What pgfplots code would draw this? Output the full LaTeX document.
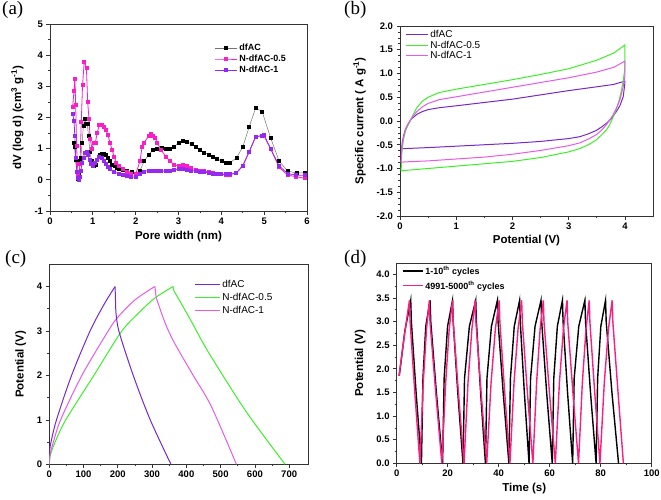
\documentclass[border=0pt]{standalone}
\usepackage{fontspec}
\setmainfont{Liberation Sans}
\newfontfamily\serif{Liberation Serif}
\usepackage{pgfplots}
\pgfplotsset{compat=1.18}
\definecolor{apink}{RGB}{250,30,200}
\definecolor{apurple}{RGB}{150,40,240}
\definecolor{bpurple}{RGB}{120,40,200}
\definecolor{bgreen}{RGB}{60,240,40}
\definecolor{bmag}{RGB}{230,90,235}
\definecolor{dpink}{RGB}{250,30,130}
\pgfplotsset{
  every axis/.append style={
    scale only axis, anchor=south west,
    axis line style={draw=black!80, line width=0.9pt},
    tick align=outside, xtick pos=left, ytick pos=left,
    major tick length=3.5pt, minor tick length=2pt,
    every tick/.style={black!80, line width=0.7pt},
    ticklabel style={font=\bfseries\fontsize{9.5}{10}\selectfont},
    /pgf/number format/assume math mode=true,
    label style={font=\bfseries\fontsize{11.5}{12}\selectfont},
    ylabel style={yshift=4pt},
    legend cell align=left,
  },
}
\begin{document}
\begin{tikzpicture}
\useasboundingbox (0,0) rectangle (661pt,499pt);
% ---------------- (a)
\begin{axis}[at={(50pt,288pt)}, width=257pt, height=187pt,
  xmin=0, xmax=6, ymin=-1, ymax=5, xtick={0,...,6}, ytick={-1,...,5},
  minor x tick num=1, minor y tick num=1,
  xlabel={Pore width (nm)}, ylabel={dV (log d) (cm\textsuperscript{3} g\textsuperscript{-1})},
  xlabel style={yshift=0pt},
  legend style={draw=none, fill=none, at={(0.64,0.905)}, anchor=north west, inner sep=0pt,
    font=\bfseries\fontsize{9}{9}\selectfont, row sep=-1pt},
  legend image code/.code={\draw[mark repeat=2,mark phase=2,#1] plot coordinates {(0pt,0pt) (11pt,0pt) (22pt,0pt)};},
  mark size=1.5pt]
\addplot[color=black!55, line width=0.5pt, mark=square*, mark options={black, draw=black}] coordinates {
(0.55,1.2)(0.57,1.05)(0.6,0.65)(0.62,0.25)(0.65,0.05)(0.68,0.2)(0.7,0.6)(0.72,0.7)(0.75,1.2)(0.78,1.75)(0.81,1.95)(0.84,1.8)(0.87,1.8)(0.9,1.4)(0.93,0.9)(0.97,0.6)(1.02,0.45)(1.06,0.5)(1.1,0.65)(1.15,0.8)(1.2,0.85)(1.25,0.85)(1.3,0.8)(1.35,0.7)(1.4,0.6)(1.45,0.5)(1.5,0.45)(1.55,0.4)(1.6,0.35)(1.7,0.32)(1.8,0.28)(1.9,0.25)(2.0,0.2)(2.1,0.3)(2.2,0.6)(2.3,0.8)(2.4,0.95)(2.5,1.0)(2.6,1.02)(2.7,1.0)(2.8,1.0)(2.9,1.05)(3.0,1.2)(3.1,1.27)(3.2,1.22)(3.3,1.15)(3.4,1.05)(3.5,0.95)(3.6,0.88)(3.7,0.82)(3.8,0.75)(3.9,0.68)(4.0,0.6)(4.1,0.55)(4.2,0.55)(4.35,0.7)(4.5,1.05)(4.65,1.7)(4.8,2.3)(4.95,2.2)(5.15,1.35)(5.35,0.6)(5.55,0.28)(5.75,0.22)(5.95,0.22)};
\addlegendentry{dfAC}
\addplot[color=apink, line width=0.8pt, mark=square*, mark options={apink}] coordinates {
(0.53,2.35)(0.56,2.85)(0.58,3.25)(0.6,2.4)(0.62,1.1)(0.64,0.5)(0.66,0.15)(0.68,0.1)(0.7,0.5)(0.73,1.85)(0.76,3.05)(0.8,3.8)(0.85,3.6)(0.88,2.5)(0.91,1.95)(0.94,1.3)(0.98,1.0)(1.02,1.2)(1.06,1.2)(1.1,1.5)(1.15,1.75)(1.2,1.77)(1.25,1.7)(1.3,1.6)(1.35,1.45)(1.4,1.2)(1.45,0.95)(1.5,0.75)(1.55,0.55)(1.6,0.45)(1.7,0.35)(1.8,0.25)(1.9,0.2)(2.0,0.18)(2.1,0.6)(2.15,1.05)(2.2,1.2)(2.3,1.4)(2.35,1.47)(2.4,1.4)(2.45,1.35)(2.5,1.2)(2.6,0.95)(2.7,0.75)(2.8,0.6)(2.9,0.48)(3.0,0.45)(3.1,0.48)(3.2,0.45)(3.3,0.38)(3.4,0.32)(3.5,0.3)(3.6,0.28)(3.7,0.25)(3.8,0.22)(3.9,0.2)(4.0,0.18)(4.1,0.17)(4.2,0.17)(4.35,0.22)(4.5,0.45)(4.65,0.9)(4.8,1.38)(4.95,1.42)(5.0,1.4)(5.15,1.0)(5.35,0.4)(5.55,0.15)(5.75,0.1)(5.95,0.05)};
\addlegendentry{N-dfAC-0.5}
\addplot[color=apurple, line width=0.8pt, mark=square*, mark options={apurple}] coordinates {
(0.53,2.1)(0.56,1.9)(0.58,1.4)(0.6,0.7)(0.63,0.25)(0.66,0.05)(0.68,0.0)(0.7,0.1)(0.72,0.3)(0.75,0.55)(0.78,0.7)(0.81,0.88)(0.85,0.9)(0.88,0.8)(0.92,0.65)(0.96,0.5)(1.0,0.45)(1.05,0.55)(1.1,0.65)(1.15,0.72)(1.2,0.7)(1.25,0.6)(1.3,0.5)(1.35,0.42)(1.4,0.35)(1.5,0.25)(1.6,0.2)(1.7,0.16)(1.8,0.12)(1.9,0.1)(2.0,0.08)(2.1,0.2)(2.2,0.27)(2.3,0.3)(2.4,0.3)(2.5,0.28)(2.6,0.28)(2.7,0.28)(2.8,0.28)(2.9,0.32)(3.0,0.35)(3.1,0.35)(3.2,0.33)(3.3,0.3)(3.4,0.28)(3.5,0.27)(3.6,0.25)(3.7,0.22)(3.8,0.2)(3.9,0.2)(4.0,0.18)(4.1,0.18)(4.2,0.18)(4.35,0.22)(4.5,0.45)(4.65,0.9)(4.8,1.38)(4.95,1.42)(5.0,1.43)(5.15,1.0)(5.35,0.45)(5.55,0.2)(5.75,0.15)(5.95,0.15)};
\addlegendentry{N-dfAC-1}
\end{axis}
% ---------------- (b)
\begin{axis}[at={(400pt,283pt)}, width=253pt, height=190pt,
  xmin=0, xmax=4.5, ymin=-2, ymax=2, xtick={0,...,4}, ytick={-2,-1.5,...,2},
  minor x tick num=1, minor y tick num=3,
  yticklabel style={/pgf/number format/.cd, fixed, fixed zerofill, precision=1},
  xlabel={Potential (V)}, ylabel={Specific current ( A g\textsuperscript{-1})},
  xlabel style={yshift=1pt},
  legend style={draw=none, fill=none, at={(0.02,0.99)}, anchor=north west, inner sep=0pt,
    font=\fontsize{10}{10}\selectfont, row sep=-2pt},
  legend image code/.code={\draw[#1] (0pt,0pt) -- (22pt,0pt);}]
\addplot[color=bpurple, line width=1pt] coordinates {
(0.03,-0.58)(0.04,-0.45)(0.07,-0.28)(0.1,-0.17)(0.15,-0.05)(0.2,0.04)(0.3,0.14)(0.4,0.2)(0.5,0.24)(0.7,0.28)(1,0.32)(1.5,0.39)(2,0.46)(2.5,0.55)(3,0.64)(3.5,0.72)(3.8,0.77)(4,0.84)
(4,0.8)(3.99,0.7)(3.97,0.51)(3.91,0.32)(3.85,0.2)(3.76,0.05)(3.67,-0.05)(3.58,-0.13)(3.49,-0.2)(3.35,-0.27)(3.2,-0.33)(3,-0.37)(2.5,-0.43)(2,-0.47)(1.5,-0.5)(1,-0.53)(0.5,-0.56)(0.1,-0.58)(0.03,-0.58)};
\addlegendentry{dfAC}
\addplot[color=bgreen, line width=1pt] coordinates {
(0.02,-1.05)(0.03,-0.7)(0.06,-0.4)(0.1,-0.2)(0.15,-0.07)(0.2,0.05)(0.25,0.17)(0.3,0.28)(0.4,0.42)(0.5,0.5)(0.7,0.6)(1,0.67)(1.5,0.77)(2,0.87)(2.5,0.98)(3,1.1)(3.5,1.28)(3.8,1.43)(4,1.6)
(4,1.1)(3.97,0.85)(3.94,0.65)(3.9,0.45)(3.85,0.25)(3.79,0.08)(3.72,-0.1)(3.67,-0.19)(3.58,-0.3)(3.49,-0.4)(3.35,-0.5)(3.2,-0.58)(3.0,-0.65)(2.5,-0.77)(2.0,-0.85)(1.5,-0.9)(1.0,-0.95)(0.5,-1.0)(0.1,-1.04)(0.02,-1.05)};
\addlegendentry{N-dfAC-0.5}
\addplot[color=bmag, line width=1pt] coordinates {
(0.02,-0.87)(0.03,-0.6)(0.06,-0.35)(0.1,-0.17)(0.15,-0.05)(0.2,0.05)(0.3,0.2)(0.4,0.3)(0.5,0.37)(0.7,0.45)(1,0.51)(1.5,0.61)(2,0.71)(2.5,0.81)(3,0.91)(3.5,1.03)(3.8,1.13)(4,1.26)
(4,0.95)(3.97,0.72)(3.91,0.44)(3.85,0.27)(3.79,0.13)(3.72,0.0)(3.67,-0.08)(3.58,-0.2)(3.49,-0.29)(3.35,-0.38)(3.2,-0.46)(3,-0.52)(2.5,-0.62)(2,-0.7)(1.5,-0.76)(1,-0.8)(0.5,-0.84)(0.1,-0.86)(0.02,-0.87)};
\addlegendentry{N-dfAC-1}
\end{axis}
% ---------------- (c)
\begin{axis}[at={(49.3pt,34.7pt)}, width=258.7pt, height=200pt,
  xmin=0, xmax=755, ymin=0, ymax=4.5, xtick={0,100,...,700}, ytick={0,...,4},
  minor x tick num=1, minor y tick num=1,
  ylabel={Potential (V)},
  legend style={draw=none, fill=none, at={(0.56,0.93)}, anchor=north west, inner sep=0pt,
    font=\fontsize{10}{10}\selectfont, row sep=0pt},
  legend image code/.code={\draw[#1] (0pt,0pt) -- (25pt,0pt);}]
\addplot[color=bpurple, line width=1pt, smooth, tension=0.5] coordinates {
(0,0)(1,0.3)(5,0.5)(21,1.0)(65,2.0)(119,3.0)(160,3.6)(192,4.0)};
\addlegendentry{dfAC}
\addplot[color=bgreen, line width=1pt, smooth, tension=0.5] coordinates {
(0,0)(3,0.2)(17,0.5)(48,1.0)(130,2.0)(209,2.97)(260,3.4)(308,3.74)(361,4)};
\addlegendentry{N-dfAC-0.5}
\addplot[color=bmag, line width=1pt, smooth, tension=0.5] coordinates {
(0,0)(3,0.25)(12,0.5)(33,1.0)(95,2.0)(172,3.0)(199,3.3)(250,3.7)(308,4)};
\addlegendentry{N-dfAC-1}
\addplot[forget plot, color=bpurple, line width=1pt] coordinates {(192,4.0)(194,3.47)};
\addplot[forget plot, color=bpurple, line width=1pt, smooth, tension=0.5] coordinates {
(194,3.47)(203,3.0)(245,2.0)(294.6,1.0)(355,0)};
\addplot[forget plot, color=bgreen, line width=1pt] coordinates {(361,4)(364,3.9)};
\addplot[forget plot, color=bgreen, line width=1pt, smooth, tension=0.5] coordinates {
(364,3.9)(410,3.28)(463,2.54)(561,1.34)(620,0.7)(688,0)};
\addplot[forget plot, color=bmag, line width=1pt] coordinates {(308,4)(312,3.75)};
\addplot[forget plot, color=bmag, line width=1pt, smooth, tension=0.5] coordinates {
(312,3.75)(338,3.18)(366,2.72)(420,2.0)(473,1.3)(546,0)};
\end{axis}
% ---------------- (d)
\begin{axis}[at={(396.7pt,35.7pt)}, width=255pt, height=200.3pt,
  xmin=0, xmax=100, ymin=0, ymax=4.24, xtick={0,20,...,100}, ytick={0,0.5,...,4},
  minor x tick num=1, minor y tick num=1,
  yticklabel style={/pgf/number format/.cd, fixed, fixed zerofill, precision=1},
  xlabel={Time (s)}, ylabel={Potential (V)},
  xlabel style={yshift=1pt},
  legend style={draw=none, fill=none, at={(0.02,0.995)}, anchor=north west, inner sep=0pt,
    font=\bfseries\fontsize{9}{9}\selectfont, row sep=1pt},
  legend image code/.code={\draw[#1] (0pt,0pt) -- (20pt,0pt);}]
\addplot[color=black, line width=1.4pt] coordinates {
(1.0,1.85)(3.2,2.8)(5.5,3.45)(5.75,3.0)(7.6,1.5)(9.7,0)
(10.3,1.8)(11.4,2.9)(13.1,3.45)(13.35,3.0)(15.55,1.5)(18.0,0)
(18.6,1.8)(19.95,2.9)(21.9,3.45)(22.15,3.0)(23.95,1.5)(26.0,0)
(26.6,1.8)(28.5,2.9)(31.0,3.45)(31.25,3.0)(32.9,1.5)(34.8,0)
(35.4,1.8)(37.15,2.9)(39.5,3.45)(39.75,3.0)(41.75,1.5)(44.0,0)
(44.6,1.8)(46.1,2.9)(48.2,3.45)(48.45,3.0)(50.05,1.5)(51.9,0)
(52.5,1.8)(54.25,2.9)(56.6,3.45)(56.85,3.0)(58.8,1.5)(61.0,0)
(61.6,1.8)(63.0,2.9)(65.0,3.45)(65.25,3.0)(67.0,1.5)(69.0,0)
(69.6,1.8)(71.4,2.9)(73.8,3.45)(74.05,3.0)(76.0,1.5)(78.2,0)
(78.8,1.8)(80.05,2.9)(81.9,3.45)(82.15,3.0)(84.4,1.5)(87.0,0)};
\addlegendentry{1-10\textsuperscript{th} cycles}
\addplot[color=dpink, line width=1.4pt] coordinates {
(0.9,1.85)(3.0,2.7)(5.0,3.45)(5.25,3.0)(7.1,1.5)(9.1,0)
(10.4,1.7)(11.7,2.85)(12.8,3.45)(13.05,3.0)(15.3,1.5)(17.7,0)
(19.2,1.7)(20.6,2.85)(21.9,3.45)(22.15,3.0)(24.2,1.5)(26.4,0)
(27.95,1.7)(29.5,2.85)(30.8,3.45)(31.05,3.0)(33.1,1.5)(35.3,0)
(37.0,1.7)(38.7,2.85)(40.2,3.45)(40.45,3.0)(42.35,1.5)(44.4,0)
(46.0,1.7)(47.6,2.85)(49.0,3.45)(49.25,3.0)(51.25,1.5)(53.4,0)
(54.85,1.7)(56.25,2.85)(57.5,3.45)(57.75,3.0)(59.9,1.5)(62.2,0)
(63.8,1.7)(65.4,2.85)(66.8,3.45)(67.05,3.0)(69.1,1.5)(71.3,0)
(72.8,1.7)(74.25,2.85)(75.5,3.45)(75.75,3.0)(77.65,1.5)(79.7,0)
(81.4,1.7)(83.05,2.85)(84.5,3.45)(84.75,3.0)(86.8,1.5)(88.9,0)};
\addlegendentry{4991-5000\textsuperscript{th} cycles}
\end{axis}
% panel letters
\node[anchor=north west, inner sep=0pt, font=\serif\fontsize{19}{19}\selectfont] at (2pt,498pt) {(a)};
\node[anchor=north west, inner sep=0pt, font=\serif\fontsize{19}{19}\selectfont] at (344pt,498pt) {(b)};
\node[anchor=north west, inner sep=0pt, font=\serif\fontsize{19}{19}\selectfont] at (5pt,249pt) {(c)};
\node[anchor=north west, inner sep=0pt, font=\serif\fontsize{19}{19}\selectfont] at (344pt,249pt) {(d)};
\end{tikzpicture}
\end{document}
